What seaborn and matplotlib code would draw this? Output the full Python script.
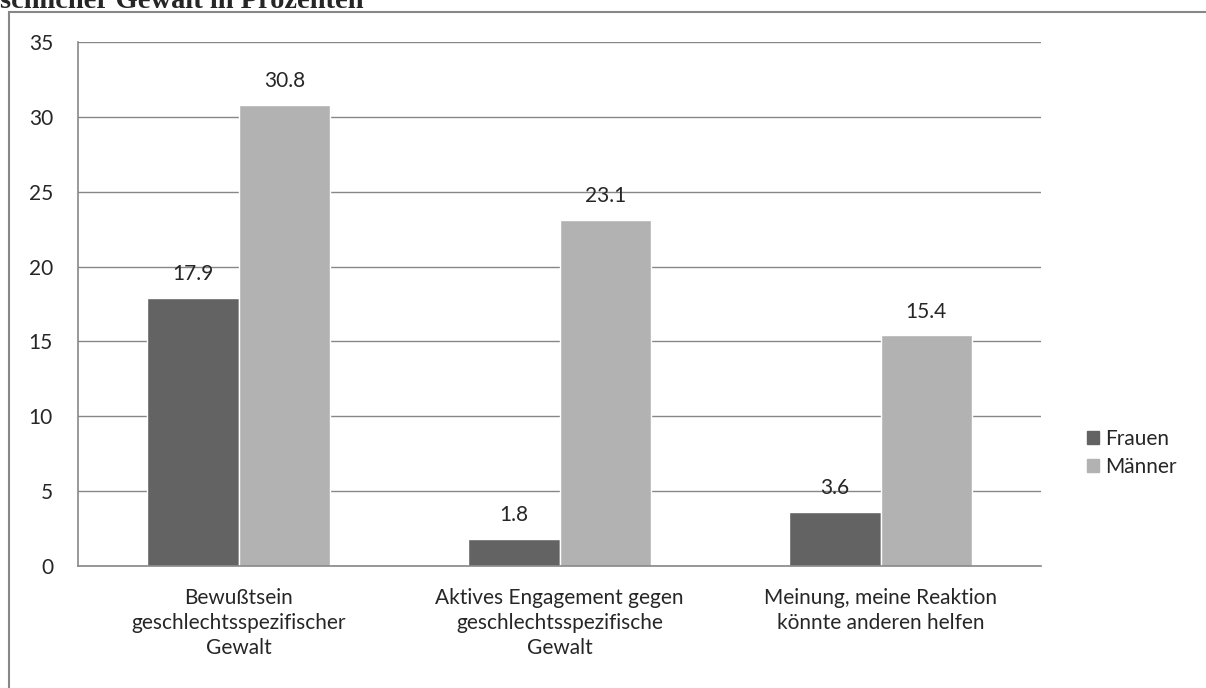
import pandas as pd
import numpy as np
import matplotlib.pyplot as plt
import seaborn as sns
from matplotlib.patches import Rectangle, Patch

# Daten
kategorien = ["Bewußtsein\ngeschlechtsspezifischer\nGewalt",
              "Aktives Engagement gegen\ngeschlechtsspezifische\nGewalt",
              "Meinung, meine Reaktion\nkönnte anderen helfen"]
frauen = [17.9, 1.8, 3.6]
maenner = [30.8, 23.1, 15.4]
gruppen = ["Frauen", "Männer"]
farben = ["#636363", "#b2b2b2"]
titel = "schlicher Gewalt in Prozenten"

df = pd.DataFrame({
    "kategorie": kategorien * 2,
    "wert": frauen + maenner,
    "gruppe": ["Frauen"] * 3 + ["Männer"] * 3,
})

sns.set_style("white")
plt.rcParams['font.family'] = ['Lato', 'DejaVu Sans']
fs = 15

W, H = 1206, 688
fig = plt.figure(figsize=(W / 100, H / 100), dpi=100)
ax = fig.add_axes([78 / W, 1 - 566 / H, (1041 - 78) / W, (566 - 42) / H])

sns.barplot(data=df, x="kategorie", y="wert", hue="gruppe", hue_order=gruppen,
            palette=farben, width=0.57, gap=0, saturation=1, ax=ax, legend=False)

grau = "#878787"
ax.set_xlim(-0.5, 2.5)
ax.set_ylim(0, 35)
ax.set_yticks(np.arange(0, 36, 5))
ax.yaxis.grid(True, color=grau, lw=1)
ax.set_axisbelow(True)
for s in ["top", "right"]:
    ax.spines[s].set_visible(False)
for s in ["left", "bottom"]:
    ax.spines[s].set_color(grau)
    ax.spines[s].set_linewidth(1.2)
ax.tick_params(axis="y", length=6, color=grau, width=1.2, labelsize=fs, pad=12)
ax.set_xticks([0, 1, 2])
ax.set_xticklabels(kategorien, fontsize=fs, linespacing=1.32)
ax.set_xticks([-0.5, 0.5, 1.5, 2.5], minor=True)
ax.tick_params(axis="x", which="major", length=0, pad=16)
ax.tick_params(axis="x", which="minor", length=5, color=grau, width=1.2)
ax.set_xlabel("")
ax.set_ylabel("")

for cont in ax.containers:
    ax.bar_label(cont, fmt="%.1f", padding=10, fontsize=fs)

# Legende
handles = [Patch(color=c, label=g) for g, c in zip(gruppen, farben)]
fig.legend(handles=handles, loc="center left", bbox_to_anchor=(1068 / W, 1 - 453 / H),
           frameon=False, fontsize=fs, handlelength=0.6, handleheight=0.6,
           handletextpad=0.3, labelspacing=0.4)

# Rahmen und abgeschnittener Titel
fig.patches.append(Rectangle((9 / W, -0.1), 1.2, 1 - 12 / H + 0.1, transform=fig.transFigure,
                             fill=False, ec=grau, lw=1.5))
fig.text(0, 1 - 8 / H, titel, fontsize=20.5, fontweight="bold",
         family="Liberation Serif", va="baseline", ha="left")

fig.savefig("out.png", dpi=100)
